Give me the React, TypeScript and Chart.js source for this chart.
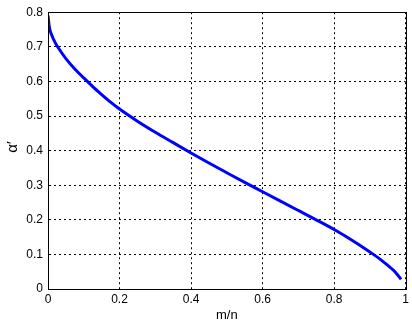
import React, { useEffect, useRef } from "react";
import { Chart, registerables } from "chart.js";

Chart.register(...registerables);

const mnValues = [0, 0.004, 0.01, 0.02, 0.03, 0.05, 0.075, 0.1, 0.125, 0.15, 0.175, 0.2, 0.25, 0.3, 0.35, 0.4, 0.45, 0.5, 0.55, 0.6, 0.65, 0.7, 0.75, 0.8, 0.85, 0.9, 0.93, 0.95, 0.97, 0.987];
const alphaValues = [0.79, 0.755, 0.735, 0.712, 0.695, 0.666, 0.636, 0.61, 0.585, 0.562, 0.54, 0.52, 0.485, 0.453, 0.423, 0.393, 0.364, 0.336, 0.308, 0.281, 0.254, 0.227, 0.2, 0.172, 0.141, 0.107, 0.085, 0.068, 0.05, 0.028];

const xTickValues = [0, 0.2, 0.4, 0.6, 0.8, 1];
const yTickValues = [0, 0.1, 0.2, 0.3, 0.4, 0.5, 0.6, 0.7, 0.8];
const xTitle = "m/n";
const yTitle = "α′";

const FONT = "'Liberation Sans', Arial, Helvetica, sans-serif";

const fmt = (v: number) => String(Number(v.toFixed(2)));

export default function App() {
  const ref = useRef<HTMLCanvasElement | null>(null);

  useEffect(() => {
    document.body.style.margin = "0";
    const canvas = ref.current;
    if (!canvas) return;

    const framePlugin = {
      id: "frameAndTitles",
      afterDraw(chart: any) {
        const { ctx, chartArea } = chart;
        ctx.save();
        ctx.strokeStyle = "#000";
        ctx.lineWidth = 1;
        ctx.setLineDash([]);
        ctx.strokeRect(
          Math.round(chartArea.left) + 0.5,
          Math.round(chartArea.top) + 0.5,
          Math.round(chartArea.right - chartArea.left),
          Math.round(chartArea.bottom - chartArea.top)
        );
        ctx.fillStyle = "#000";
        ctx.font = `13px ${FONT}`;
        ctx.textAlign = "center";
        ctx.textBaseline = "middle";
        ctx.fillText(xTitle, (chartArea.left + chartArea.right) / 2, 315);
        ctx.translate(13, 147);
        ctx.rotate(-Math.PI / 2);
        ctx.font = `15px ${FONT}`;
        ctx.fillText(yTitle, 0, 0);
        ctx.restore();
      },
    };

    const chart = new Chart(canvas, {
      type: "line",
      data: {
        datasets: [
          {
            data: mnValues.map((x, i) => ({ x, y: alphaValues[i] })),
            borderColor: "#0000ff",
            borderWidth: 3,
            pointRadius: 0,
            cubicInterpolationMode: "monotone",
            fill: false,
          },
        ],
      },
      options: {
        animation: false,
        responsive: false,
        maintainAspectRatio: false,
        layout: { padding: { top: 4, right: 3, left: 0, bottom: 0 } },
        plugins: { legend: { display: false }, tooltip: { enabled: false } },
        scales: {
          x: {
            type: "linear",
            min: 0,
            max: 1,
            afterFit: (s: any) => {
              s.height = 33;
            },
            afterBuildTicks: (s: any) => {
              s.ticks = xTickValues.map((v) => ({ value: v }));
            },
            ticks: {
              color: "#000",
              font: { family: FONT, size: 12 },
              padding: 3,
              maxRotation: 0,
              autoSkip: false,
              callback: (v: any) => fmt(Number(v)),
            },
            grid: { color: "#000", lineWidth: 1, drawTicks: false },
            border: { display: true, color: "#000", dash: [2, 3] },
          },
          y: {
            type: "linear",
            min: 0,
            max: 0.8,
            afterFit: (s: any) => {
              s.width = 48;
            },
            afterBuildTicks: (s: any) => {
              s.ticks = yTickValues.map((v) => ({ value: v }));
            },
            ticks: {
              color: "#000",
              font: { family: FONT, size: 12 },
              padding: 5,
              autoSkip: false,
              callback: (v: any) => fmt(Number(v)),
            },
            grid: { color: "#000", lineWidth: 1, drawTicks: false },
            border: { display: true, color: "#000", dash: [2, 3] },
          },
        },
      },
      plugins: [framePlugin],
    } as any);

    return () => chart.destroy();
  }, []);

  return (
    <div style={{ width: 412, height: 322, background: "#fff" }}>
      <canvas ref={ref} width={412} height={322} />
    </div>
  );
}
